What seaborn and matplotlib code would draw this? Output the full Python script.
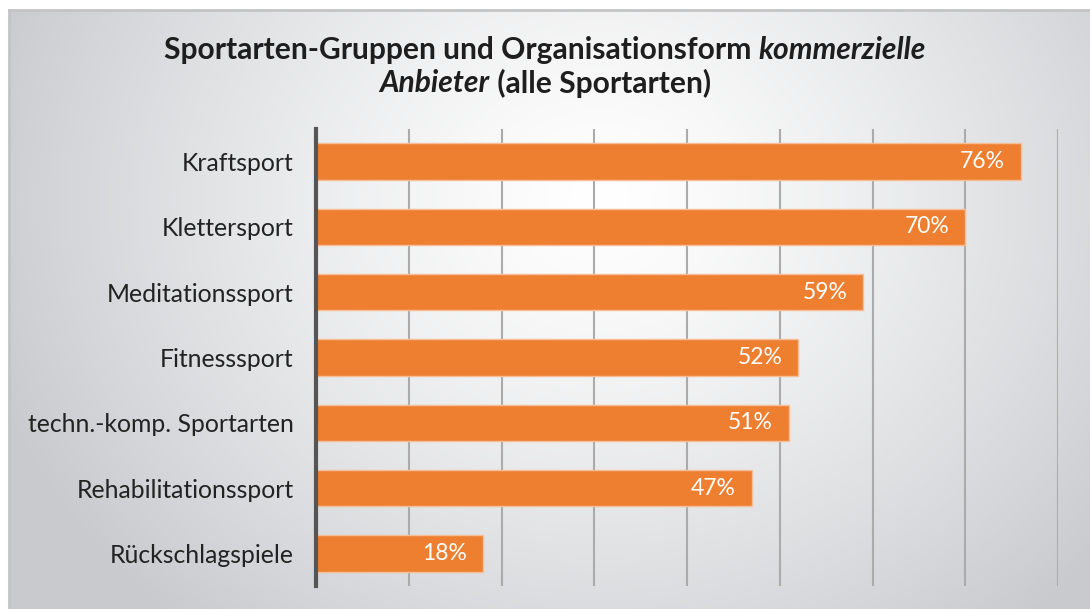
import numpy as np
import pandas as pd
import matplotlib
matplotlib.use("Agg")
import matplotlib.pyplot as plt
import seaborn as sns

# Data
categories = ["Kraftsport", "Klettersport", "Meditationssport", "Fitnesssport",
              "techn.-komp. Sportarten", "Rehabilitationssport", "Rückschlagspiele"]
shares = [76, 70, 59, 52, 51, 47, 18]
x_ticks = [0, 10, 20, 30, 40, 50, 60, 70, 80]

df = pd.DataFrame({"Sportart": categories, "Anteil": shares})

sns.set_theme(style="white")
plt.rcParams["font.family"] = ["Lato", "DejaVu Sans"]

W, H, DPI = 1090, 609, 100
fig = plt.figure(figsize=(W / DPI, H / DPI), dpi=DPI)
fig.patch.set_facecolor("white")

# Panel with soft radial background
bg = fig.add_axes([9 / W, 0, 1 - 9 / W, 1 - 10 / H], zorder=-10)
ph, pw = 599, 1081
yy, xx = np.mgrid[0:ph, 0:pw]
cx, cy = 590, 190
d = np.sqrt((xx - cx) ** 2 + ((yy - cy) * 1.15) ** 2) / 640.0
t = np.clip(d, 0, 1) ** 1.3
center = np.array([1.0, 1.0, 1.0])
edge = np.array([0.79, 0.795, 0.81])
img = center[None, None, :] * (1 - t[..., None]) + edge[None, None, :] * t[..., None]
bg.imshow(img, aspect="auto", extent=[0, 1, 0, 1], origin="upper")
bg.set_xlim(0, 1)
bg.set_ylim(0, 1)
bg.set_xticks([])
bg.set_yticks([])
for s in ["left", "top"]:
    bg.spines[s].set_color("#c4c4c4")
    bg.spines[s].set_linewidth(2)
for s in ["right", "bottom"]:
    bg.spines[s].set_visible(False)

# Main chart
ax = fig.add_axes([316 / W, 1 - 586 / H, (1058 - 316) / W, (586 - 129) / H])
ax.patch.set_alpha(0)
sns.barplot(data=df, x="Anteil", y="Sportart", orient="h", color="#EE7F31",
            width=0.56, edgecolor="#F5BE98", linewidth=1.0, saturation=1, ax=ax)
ax.set_xlim(0, 80)
ax.set_ylim(6.5, -0.5)
ax.set_xticks(x_ticks)
ax.xaxis.grid(True, color="#ababab", linewidth=1.5)
ax.set_axisbelow(True)
ax.tick_params(axis="x", length=0, labelbottom=False)
ax.tick_params(axis="y", length=0, pad=16, labelsize=17.8, labelcolor="#222222")
ax.set_xlabel("")
ax.set_ylabel("")
for s in ["top", "right", "bottom"]:
    ax.spines[s].set_visible(False)
ax.spines["left"].set_color("#555555")
ax.spines["left"].set_linewidth(3)

for i, v in enumerate(shares):
    ax.annotate(f"{v}%", xy=(v, i), xytext=(-11.5, 0), textcoords="offset points",
                ha="right", va="center", color="white", fontsize=16.5)

# Title with italic part
renderer = fig.canvas.get_renderer()
lines = [
    [("Sportarten-Gruppen und Organisationsform ", "normal"), ("kommerzielle", "italic")],
    [("Anbieter", "italic"), (" (alle Sportarten)", "normal")],
]
ys = [1 - 50 / H, 1 - 83 / H]
cxf = 545 / W
for segs, y in zip(lines, ys):
    texts = []
    for s, st in segs:
        tx = fig.text(0, y, s, fontsize=21.6, fontweight="bold", style=st,
                      color="#1e1e1e", va="center", ha="left")
        texts.append(tx)
    widths = [tx.get_window_extent(renderer).width / W for tx in texts]
    x = cxf - sum(widths) / 2
    for tx, w in zip(texts, widths):
        tx.set_x(x)
        x += w

fig.savefig("out.png", dpi=DPI, facecolor="white")
